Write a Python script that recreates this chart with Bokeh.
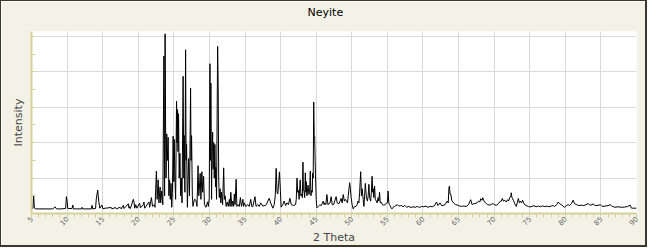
import math
from bokeh.plotting import figure
from bokeh.models import FixedTicker, Range1d, LinearAxis
from bokeh.embed import file_html
from bokeh.resources import INLINE

# ---- data ----
two_theta = [
    5.0, 5.2, 5.3, 5.4, 5.6, 8.0, 8.3, 8.5, 9.0, 9.8, 9.9, 10.0, 10.1, 10.7, 10.8, 10.9,
    12.0, 12.1, 12.2, 13.4, 13.5, 13.6, 14.0, 14.1, 14.3, 14.45, 14.6, 14.9, 15.0,
    16.2, 16.3, 16.8, 16.9, 17.45, 17.6, 17.9, 18.0, 18.6, 18.7, 18.75, 18.9, 19.3, 19.4,
    19.5, 19.65, 19.8, 20.2, 20.3, 20.7, 20.8, 20.9, 21.5, 21.6, 21.85, 22.0, 22.2, 22.35,
    22.55, 22.65, 22.8, 22.9, 23.07, 23.15, 23.3, 23.45, 23.6, 23.7, 23.77, 23.85, 23.9,
    24.0, 24.1, 24.2, 24.3, 24.4, 24.5, 24.6, 24.7, 24.8, 24.9, 25.0, 25.05, 25.15, 25.25,
    25.38, 25.45, 25.52, 25.58, 25.66, 25.75, 25.85, 25.95, 26.05, 26.15, 26.3, 26.4,
    26.45, 26.55, 26.65, 26.72, 26.79, 26.9, 27.07, 27.2, 27.35, 27.42, 27.49, 27.6,
    27.68, 27.9, 28.1, 28.25, 28.4, 28.5, 28.6, 28.7, 28.8, 28.94, 29.05, 29.18, 29.3,
    29.5, 29.74, 29.85, 29.97, 30.07, 30.15, 30.2, 30.3, 30.35, 30.45, 30.52, 30.6, 30.68,
    30.77, 30.85, 30.9, 31.0, 31.15, 31.23, 31.3, 31.38, 31.5, 31.6, 31.7, 31.85, 32.0,
    32.1, 32.2, 32.35, 32.5, 32.65, 32.8, 32.9, 33.0, 33.15, 33.28, 33.4, 33.5, 33.6,
    33.75, 33.85, 34.0, 34.2, 34.35, 34.5, 34.7, 34.8, 34.9, 35.1, 35.4, 35.6, 35.8,
    35.95, 36.1, 36.4, 36.55, 36.8, 37.0, 37.2, 37.5, 37.8, 38.0, 38.2, 38.4, 38.6, 38.9,
    39.1, 39.25, 39.37, 39.5, 39.6, 39.7, 39.84, 39.97, 40.07, 40.3, 40.5, 40.7, 40.9,
    41.1, 41.3, 41.5, 41.8, 42.1, 42.2, 42.3, 42.4, 42.5, 42.6, 42.75, 42.85, 42.95,
    43.05, 43.14, 43.2, 43.28, 43.38, 43.47, 43.55, 43.6, 43.7, 43.85, 43.98, 44.07,
    44.17, 44.26, 44.36, 44.45, 44.5, 44.58, 44.65, 44.72, 44.78, 44.85, 44.9, 45.0,
    45.1, 45.3, 45.5, 45.7, 46.0, 46.1, 46.2, 46.35, 46.5, 46.65, 46.8, 46.95, 47.1,
    47.25, 47.45, 47.6, 47.8, 47.95, 48.2, 48.35, 48.5, 48.65, 48.8, 48.95, 49.1, 49.25,
    49.4, 49.5, 49.7, 49.8, 49.9, 50.05, 50.2, 50.4, 50.6, 50.75, 50.87, 51.0, 51.1,
    51.25, 51.35, 51.45, 51.6, 51.7, 51.8, 51.9, 52.05, 52.2, 52.3, 52.4, 52.5, 52.65,
    52.75, 52.85, 52.95, 53.0, 53.1, 53.2, 53.3, 53.45, 53.55, 53.7, 53.8, 53.9, 54.0,
    54.15, 54.3, 54.5, 54.7, 54.9, 55.0, 55.1, 55.2, 55.3, 55.5, 55.65, 55.8, 56.0, 56.2,
    56.4, 56.6, 56.97, 57.2, 57.44, 57.7, 58.0, 58.3, 58.6, 58.9, 59.2, 59.5, 59.8, 60.1,
    60.4, 60.7, 61.0, 61.3, 61.6, 61.9, 62.1, 62.4, 62.6, 62.8, 63.1, 63.4, 63.55, 63.65,
    63.72, 63.8, 63.9, 64.05, 64.2, 64.4, 64.6, 64.9, 65.1, 65.4, 65.7, 66.1, 66.4, 66.7,
    66.9, 67.1, 67.3, 67.6, 67.8, 68.0, 68.1, 68.3, 68.4, 68.6, 68.9, 69.1, 69.4, 69.6,
    69.9, 70.1, 70.35, 70.6, 70.8, 71.0, 71.15, 71.3, 71.5, 71.7, 71.9, 72.0, 72.2,
    72.35, 72.4, 72.5, 72.7, 72.9, 73.1, 73.25, 73.4, 73.55, 73.7, 73.85, 74.0, 74.15,
    74.3, 74.5, 74.8, 75.0, 75.3, 75.6, 75.9, 76.2, 76.5, 76.8, 77.1, 77.4, 77.7, 78.0,
    78.3, 78.5, 78.8, 79.0, 79.2, 79.5, 79.7, 79.9, 80.15, 80.4, 80.6, 80.85, 81.1, 81.3,
    81.6, 81.9, 82.3, 82.6, 82.9, 83.2, 83.5, 83.9, 84.2, 84.6, 84.9, 85.1, 85.3, 85.7,
    86.0, 86.3, 86.6, 87.0, 87.4, 87.9, 88.3, 88.7, 89.1, 89.3, 89.6, 90.0,
]
intensity = [
    2.8, 3.0, 10.0, 3.0, 2.6, 2.6, 3.8, 2.6, 2.6, 2.8, 9.5, 7.0, 2.8, 2.8, 4.8, 2.6,
    2.6, 3.5, 2.6, 2.6, 4.6, 2.6, 2.8, 8.2, 13.2, 7.0, 3.0, 4.8, 2.8,
    3.4, 2.6, 3.4, 2.6, 3.5, 2.6, 4.6, 2.8, 5.5, 3.0, 4.0, 2.8, 8.0, 6.5,
    3.0, 5.0, 3.0, 5.8, 3.2, 5.0, 6.5, 3.0, 6.5, 3.5, 9.0, 4.0, 5.0, 3.5,
    24.0, 8.0, 19.0, 6.0, 15.0, 6.0, 12.7, 5.0, 89.0, 10.0, 101.5, 45.0, 20.0,
    45.0, 30.0, 43.0, 10.0, 19.0, 8.0, 17.0, 3.5, 12.0, 43.7, 18.0, 41.8, 21.0, 8.0,
    63.4, 40.0, 58.7, 35.0, 56.4, 20.0, 34.0, 10.0, 20.0, 6.0, 77.5, 20.0,
    44.0, 12.0, 92.5, 30.0, 39.0, 3.5, 31.0, 10.0, 70.9, 30.0, 44.0, 10.0,
    4.0, 8.0, 7.5, 4.0, 27.0, 10.0, 15.0, 22.6, 8.0, 23.6, 12.0, 21.0, 5.0,
    3.5, 6.6, 4.0, 8.5, 84.6, 30.0, 73.7, 8.0, 30.0, 46.0, 25.0, 40.0, 20.0,
    39.0, 15.0, 26.0, 8.0, 94.4, 71.0, 20.0, 9.0, 14.0, 6.0, 12.0, 5.0, 25.8,
    8.0, 10.0, 4.0, 6.5, 4.0, 8.0, 4.0, 12.0, 4.0, 7.0, 4.0, 11.0, 5.0,
    19.3, 4.0, 5.0, 4.0, 9.0, 4.0, 8.0, 4.0, 6.0, 4.0, 5.0, 4.0, 8.0,
    4.0, 4.0, 9.5, 4.0, 5.0, 4.0, 6.0, 4.2, 4.5, 5.0, 7.0, 8.6, 6.0, 3.0,
    5.0, 10.0, 25.5, 12.0, 11.0, 16.0, 23.5, 13.0, 3.6, 5.0, 7.0, 4.5, 6.0,
    5.0, 8.6, 5.0, 4.5, 5.0, 8.0, 20.0, 12.0, 13.0, 8.0, 19.0, 10.0, 11.0,
    9.0, 29.0, 13.0, 13.0, 9.0, 23.0, 12.0, 18.0, 10.0, 16.0, 10.7, 12.0,
    24.0, 10.0, 13.0, 12.0, 22.8, 20.0, 63.0, 44.0, 43.7, 30.0, 22.0, 8.0,
    3.2, 4.0, 4.8, 4.5, 7.0, 5.0, 6.0, 5.0, 10.7, 5.0, 5.5, 6.0, 9.5,
    5.0, 5.0, 7.0, 9.5, 6.0, 5.5, 7.0, 8.5, 6.0, 10.7, 7.0, 8.0, 7.0,
    6.0, 10.0, 17.4, 14.0, 9.2, 5.0, 2.6, 4.0, 4.0, 5.0, 7.0, 6.0, 12.0,
    23.6, 10.0, 14.0, 8.0, 4.0, 10.0, 17.0, 9.0, 7.0, 10.0, 16.5, 9.0, 7.0,
    12.0, 21.0, 12.0, 14.0, 9.0, 15.5, 8.0, 7.0, 6.0, 9.0, 7.0, 12.0, 6.0,
    6.3, 5.0, 4.7, 5.0, 6.0, 6.0, 12.7, 6.0, 5.0, 3.5, 2.6, 3.5, 4.0, 4.5,
    5.0, 4.2, 4.5, 3.8, 4.6, 3.5, 4.0, 3.4, 3.8, 3.5, 4.0, 3.4, 4.0, 3.8,
    4.2, 3.5, 4.0, 3.8, 4.4, 6.5, 4.5, 6.0, 4.5, 4.5, 5.0, 7.0, 6.0, 14.5,
    15.5, 11.0, 11.0, 7.3, 6.5, 5.6, 5.0, 4.7, 4.3, 4.0, 4.2, 4.0, 5.0, 7.8,
    5.0, 5.5, 5.6, 6.0, 7.0, 6.5, 8.3, 7.5, 8.9, 6.7, 5.6, 5.0, 4.7, 5.2,
    5.6, 4.8, 4.7, 5.5, 6.7, 7.0, 8.5, 7.0, 7.5, 6.5, 7.8, 7.0, 9.0,
    10.0, 11.7, 9.0, 7.5, 5.5, 4.0, 6.0, 8.5, 6.0, 7.0, 6.0, 7.5, 6.0,
    5.0, 4.5, 4.0, 3.7, 4.0, 4.4, 3.8, 4.2, 3.8, 4.3, 3.9, 4.2, 3.8, 4.2,
    4.5, 4.0, 5.0, 6.5, 5.5, 4.8, 4.0, 3.5, 4.5, 5.0, 4.5, 5.5, 7.5, 5.5,
    5.0, 4.5, 4.7, 4.5, 5.0, 5.6, 4.6, 5.4, 4.5, 4.6, 5.0, 4.3, 4.0, 4.3,
    4.4, 5.0, 4.0, 3.5, 3.8, 3.5, 3.6, 3.9, 4.7, 3.0, 3.0, 3.0,
]
x_ticks = list(range(5, 91, 5))
x_minor = list(range(5, 91))
y_grid = [20, 40, 60, 80, 100]
y_tick_marks = [10, 20, 30, 40, 50, 60, 70, 80, 90, 100]
chart_title = "Neyite"

CREAM = "#F4F2E6"
AXIS = "#D8D09A"
GRID = "#DADADA"

p = figure(width=647, height=247, output_backend="svg", toolbar_location=None,
           x_range=Range1d(5, 90), y_range=Range1d(0, 102.8),
           min_border_left=30, min_border_right=12, min_border_top=29,
           min_border_bottom=35, border_fill_color=CREAM,
           background_fill_color="white", outline_line_color=None)
p.styles = {"border-style": "solid", "border-color": "#3a372f",
            "border-width": "1px 2px 2px 1px"}

# invisible spacer axis between frame and title, to lift the title
spacer = LinearAxis(ticker=FixedTicker(ticks=[5]), major_tick_out=11,
                    major_tick_in=0, minor_tick_out=0, minor_tick_in=0,
                    major_label_standoff=0, major_label_text_color=None,
                    major_label_text_font_size="0px",
                    axis_line_color=None, major_tick_line_color=CREAM,
                    minor_tick_line_color=None)
p.add_layout(spacer, "above")

p.title.text = chart_title
p.title.align = "left"
p.title.offset = 276
p.title.vertical_align = "bottom"
p.title.standoff = 4
p.title.text_font = "DejaVu Sans"
p.title.text_font_size = "11px"
p.title.text_font_style = "normal"
p.title.text_color = "black"

p.line(two_theta, intensity, line_color="black", line_width=1)

xa = p.below[0]
xa.ticker = FixedTicker(ticks=x_ticks, minor_ticks=x_minor)
xa.axis_label = "2 Theta"
xa.axis_label_text_font = "DejaVu Sans"
xa.axis_label_text_font_size = "11px"
xa.axis_label_text_font_style = "normal"
xa.axis_label_standoff = 0
xa.major_label_orientation = math.pi / 4
xa.major_label_text_font = "DejaVu Sans"
xa.major_label_text_font_size = "7px"
xa.major_label_text_color = "#666666"
xa.major_label_standoff = 0
xa.axis_line_color = AXIS
xa.axis_line_width = 2
xa.major_tick_line_color = AXIS
xa.minor_tick_line_color = AXIS
xa.major_tick_out = 4
xa.major_tick_in = 0
xa.minor_tick_out = 4
xa.minor_tick_in = 0

ya = p.left[0]
ya.ticker = FixedTicker(ticks=[], minor_ticks=y_tick_marks)
ya.axis_label = "Intensity"
ya.axis_label_text_font = "DejaVu Sans"
ya.axis_label_text_font_size = "11px"
ya.axis_label_text_font_style = "normal"
ya.axis_label_standoff = 7
ya.major_label_standoff = 0
ya.axis_line_color = AXIS
ya.axis_line_width = 2
ya.major_tick_line_color = AXIS
ya.minor_tick_line_color = AXIS
ya.major_tick_out = 0
ya.major_tick_in = 4
ya.minor_tick_out = 0
ya.minor_tick_in = 4

p.xgrid.ticker = FixedTicker(ticks=x_ticks)
p.ygrid.ticker = FixedTicker(ticks=y_grid)
p.xgrid.grid_line_color = GRID
p.ygrid.grid_line_color = GRID

open("out.html", "w").write(file_html(p, INLINE))
